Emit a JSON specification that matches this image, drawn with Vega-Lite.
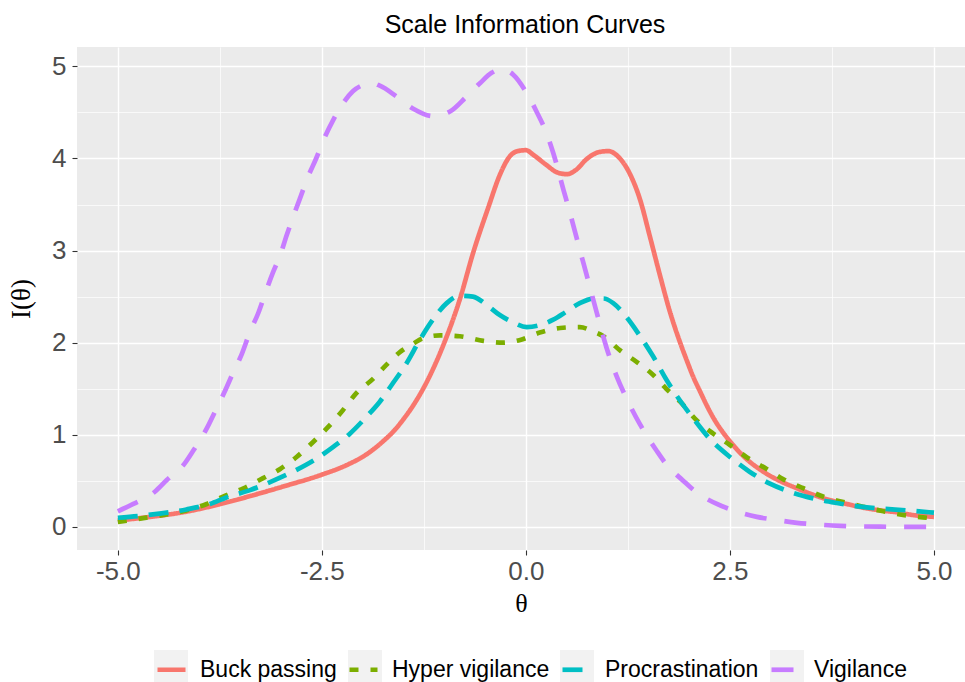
{
  "$schema": "https://vega.github.io/schema/vega-lite/v6.json",
  "width": 888,
  "height": 503,
  "autosize": {"type": "none"},
  "padding": {"left": 77, "top": 47, "right": 0, "bottom": 132},
  "background": "white",
  "title": {"text": "Scale Information Curves", "fontSize": 25, "font": "Liberation Sans", "fontWeight": "normal", "color": "black", "anchor": "middle", "dx": 4, "offset": 9},
  "config": {"view": {"fill": "#EBEBEB", "stroke": null}},
  "resolve": {"scale": {"fill": "independent"}, "legend": {"fill": "independent"}},
  "data": {"values": [
    {"scale": "Buck passing", "theta": -5.0, "info": 0.07},
    {"scale": "Buck passing", "theta": -4.6, "info": 0.11},
    {"scale": "Buck passing", "theta": -4.2, "info": 0.16},
    {"scale": "Buck passing", "theta": -3.76, "info": 0.245},
    {"scale": "Buck passing", "theta": -3.38, "info": 0.335},
    {"scale": "Buck passing", "theta": -2.97, "info": 0.44},
    {"scale": "Buck passing", "theta": -2.51, "info": 0.565},
    {"scale": "Buck passing", "theta": -2.2, "info": 0.67},
    {"scale": "Buck passing", "theta": -1.95, "info": 0.79},
    {"scale": "Buck passing", "theta": -1.75, "info": 0.93},
    {"scale": "Buck passing", "theta": -1.6, "info": 1.06},
    {"scale": "Buck passing", "theta": -1.5, "info": 1.17},
    {"scale": "Buck passing", "theta": -1.38, "info": 1.32},
    {"scale": "Buck passing", "theta": -1.2, "info": 1.6},
    {"scale": "Buck passing", "theta": -1.0, "info": 2.0},
    {"scale": "Buck passing", "theta": -0.81, "info": 2.47},
    {"scale": "Buck passing", "theta": -0.645, "info": 2.98},
    {"scale": "Buck passing", "theta": -0.46, "info": 3.47},
    {"scale": "Buck passing", "theta": -0.32, "info": 3.82},
    {"scale": "Buck passing", "theta": -0.2, "info": 4.02},
    {"scale": "Buck passing", "theta": -0.1, "info": 4.08},
    {"scale": "Buck passing", "theta": 0.0, "info": 4.09},
    {"scale": "Buck passing", "theta": 0.09, "info": 4.04},
    {"scale": "Buck passing", "theta": 0.25, "info": 3.93},
    {"scale": "Buck passing", "theta": 0.38, "info": 3.85},
    {"scale": "Buck passing", "theta": 0.5, "info": 3.83},
    {"scale": "Buck passing", "theta": 0.62, "info": 3.88},
    {"scale": "Buck passing", "theta": 0.74, "info": 3.99},
    {"scale": "Buck passing", "theta": 0.9, "info": 4.07},
    {"scale": "Buck passing", "theta": 1.01, "info": 4.08},
    {"scale": "Buck passing", "theta": 1.13, "info": 4.02},
    {"scale": "Buck passing", "theta": 1.27, "info": 3.84},
    {"scale": "Buck passing", "theta": 1.4, "info": 3.55},
    {"scale": "Buck passing", "theta": 1.52, "info": 3.15},
    {"scale": "Buck passing", "theta": 1.64, "info": 2.74},
    {"scale": "Buck passing", "theta": 1.76, "info": 2.35},
    {"scale": "Buck passing", "theta": 1.89, "info": 2.0},
    {"scale": "Buck passing", "theta": 1.97, "info": 1.81},
    {"scale": "Buck passing", "theta": 2.05, "info": 1.63},
    {"scale": "Buck passing", "theta": 2.14, "info": 1.46},
    {"scale": "Buck passing", "theta": 2.21, "info": 1.33},
    {"scale": "Buck passing", "theta": 2.3, "info": 1.18},
    {"scale": "Buck passing", "theta": 2.42, "info": 1.02},
    {"scale": "Buck passing", "theta": 2.5, "info": 0.93},
    {"scale": "Buck passing", "theta": 2.7, "info": 0.74},
    {"scale": "Buck passing", "theta": 2.91, "info": 0.6},
    {"scale": "Buck passing", "theta": 3.11, "info": 0.5},
    {"scale": "Buck passing", "theta": 3.32, "info": 0.42},
    {"scale": "Buck passing", "theta": 3.52, "info": 0.35},
    {"scale": "Buck passing", "theta": 3.73, "info": 0.29},
    {"scale": "Buck passing", "theta": 3.93, "info": 0.25},
    {"scale": "Buck passing", "theta": 4.13, "info": 0.21},
    {"scale": "Buck passing", "theta": 4.34, "info": 0.18},
    {"scale": "Buck passing", "theta": 4.54, "info": 0.16},
    {"scale": "Buck passing", "theta": 4.74, "info": 0.13},
    {"scale": "Buck passing", "theta": 5.0, "info": 0.11},

    {"scale": "Hyper vigilance", "theta": -5.0, "info": 0.054},
    {"scale": "Hyper vigilance", "theta": -4.73, "info": 0.09},
    {"scale": "Hyper vigilance", "theta": -4.44, "info": 0.13},
    {"scale": "Hyper vigilance", "theta": -4.16, "info": 0.18},
    {"scale": "Hyper vigilance", "theta": -3.91, "info": 0.25},
    {"scale": "Hyper vigilance", "theta": -3.71, "info": 0.33},
    {"scale": "Hyper vigilance", "theta": -3.46, "info": 0.42},
    {"scale": "Hyper vigilance", "theta": -3.22, "info": 0.53},
    {"scale": "Hyper vigilance", "theta": -3.01, "info": 0.63},
    {"scale": "Hyper vigilance", "theta": -2.81, "info": 0.76},
    {"scale": "Hyper vigilance", "theta": -2.61, "info": 0.92},
    {"scale": "Hyper vigilance", "theta": -2.44, "info": 1.07},
    {"scale": "Hyper vigilance", "theta": -2.24, "info": 1.27},
    {"scale": "Hyper vigilance", "theta": -2.08, "info": 1.45},
    {"scale": "Hyper vigilance", "theta": -1.87, "info": 1.61},
    {"scale": "Hyper vigilance", "theta": -1.71, "info": 1.76},
    {"scale": "Hyper vigilance", "theta": -1.54, "info": 1.9},
    {"scale": "Hyper vigilance", "theta": -1.38, "info": 1.99},
    {"scale": "Hyper vigilance", "theta": -1.26, "info": 2.05},
    {"scale": "Hyper vigilance", "theta": -1.05, "info": 2.08},
    {"scale": "Hyper vigilance", "theta": -0.81, "info": 2.07},
    {"scale": "Hyper vigilance", "theta": -0.52, "info": 2.02},
    {"scale": "Hyper vigilance", "theta": -0.28, "info": 2.0},
    {"scale": "Hyper vigilance", "theta": -0.07, "info": 2.03},
    {"scale": "Hyper vigilance", "theta": 0.17, "info": 2.11},
    {"scale": "Hyper vigilance", "theta": 0.42, "info": 2.16},
    {"scale": "Hyper vigilance", "theta": 0.66, "info": 2.17},
    {"scale": "Hyper vigilance", "theta": 0.83, "info": 2.12},
    {"scale": "Hyper vigilance", "theta": 0.95, "info": 2.07},
    {"scale": "Hyper vigilance", "theta": 1.15, "info": 1.92},
    {"scale": "Hyper vigilance", "theta": 1.36, "info": 1.79},
    {"scale": "Hyper vigilance", "theta": 1.56, "info": 1.65},
    {"scale": "Hyper vigilance", "theta": 1.72, "info": 1.5},
    {"scale": "Hyper vigilance", "theta": 1.89, "info": 1.36},
    {"scale": "Hyper vigilance", "theta": 2.09, "info": 1.16},
    {"scale": "Hyper vigilance", "theta": 2.3, "info": 1.01},
    {"scale": "Hyper vigilance", "theta": 2.5, "info": 0.89},
    {"scale": "Hyper vigilance", "theta": 2.7, "info": 0.76},
    {"scale": "Hyper vigilance", "theta": 2.95, "info": 0.63},
    {"scale": "Hyper vigilance", "theta": 3.15, "info": 0.52},
    {"scale": "Hyper vigilance", "theta": 3.4, "info": 0.42},
    {"scale": "Hyper vigilance", "theta": 3.64, "info": 0.33},
    {"scale": "Hyper vigilance", "theta": 3.89, "info": 0.27},
    {"scale": "Hyper vigilance", "theta": 4.13, "info": 0.22},
    {"scale": "Hyper vigilance", "theta": 4.38, "info": 0.17},
    {"scale": "Hyper vigilance", "theta": 4.62, "info": 0.13},
    {"scale": "Hyper vigilance", "theta": 4.91, "info": 0.1},
    {"scale": "Hyper vigilance", "theta": 5.0, "info": 0.09},

    {"scale": "Procrastination", "theta": -5.0, "info": 0.1},
    {"scale": "Procrastination", "theta": -4.73, "info": 0.12},
    {"scale": "Procrastination", "theta": -4.49, "info": 0.145},
    {"scale": "Procrastination", "theta": -4.16, "info": 0.19},
    {"scale": "Procrastination", "theta": -3.87, "info": 0.25},
    {"scale": "Procrastination", "theta": -3.67, "info": 0.32},
    {"scale": "Procrastination", "theta": -3.38, "info": 0.4},
    {"scale": "Procrastination", "theta": -3.1, "info": 0.5},
    {"scale": "Procrastination", "theta": -2.81, "info": 0.62},
    {"scale": "Procrastination", "theta": -2.57, "info": 0.74},
    {"scale": "Procrastination", "theta": -2.36, "info": 0.87},
    {"scale": "Procrastination", "theta": -2.16, "info": 1.01},
    {"scale": "Procrastination", "theta": -1.95, "info": 1.2},
    {"scale": "Procrastination", "theta": -1.79, "info": 1.36},
    {"scale": "Procrastination", "theta": -1.63, "info": 1.56},
    {"scale": "Procrastination", "theta": -1.46, "info": 1.78},
    {"scale": "Procrastination", "theta": -1.3, "info": 2.03},
    {"scale": "Procrastination", "theta": -1.14, "info": 2.25},
    {"scale": "Procrastination", "theta": -0.97, "info": 2.43},
    {"scale": "Procrastination", "theta": -0.81, "info": 2.51},
    {"scale": "Procrastination", "theta": -0.65, "info": 2.5},
    {"scale": "Procrastination", "theta": -0.48, "info": 2.41},
    {"scale": "Procrastination", "theta": -0.32, "info": 2.3},
    {"scale": "Procrastination", "theta": -0.155, "info": 2.22},
    {"scale": "Procrastination", "theta": 0.01, "info": 2.17},
    {"scale": "Procrastination", "theta": 0.17, "info": 2.19},
    {"scale": "Procrastination", "theta": 0.335, "info": 2.25},
    {"scale": "Procrastination", "theta": 0.5, "info": 2.34},
    {"scale": "Procrastination", "theta": 0.66, "info": 2.43},
    {"scale": "Procrastination", "theta": 0.83, "info": 2.48},
    {"scale": "Procrastination", "theta": 0.95, "info": 2.48},
    {"scale": "Procrastination", "theta": 1.07, "info": 2.43},
    {"scale": "Procrastination", "theta": 1.23, "info": 2.28},
    {"scale": "Procrastination", "theta": 1.4, "info": 2.07},
    {"scale": "Procrastination", "theta": 1.56, "info": 1.85},
    {"scale": "Procrastination", "theta": 1.72, "info": 1.6},
    {"scale": "Procrastination", "theta": 1.89, "info": 1.37},
    {"scale": "Procrastination", "theta": 2.05, "info": 1.18},
    {"scale": "Procrastination", "theta": 2.25, "info": 0.96},
    {"scale": "Procrastination", "theta": 2.5, "info": 0.76},
    {"scale": "Procrastination", "theta": 2.74, "info": 0.6},
    {"scale": "Procrastination", "theta": 2.99, "info": 0.47},
    {"scale": "Procrastination", "theta": 3.24, "info": 0.38},
    {"scale": "Procrastination", "theta": 3.52, "info": 0.31},
    {"scale": "Procrastination", "theta": 3.81, "info": 0.26},
    {"scale": "Procrastination", "theta": 4.1, "info": 0.22},
    {"scale": "Procrastination", "theta": 4.34, "info": 0.2},
    {"scale": "Procrastination", "theta": 4.67, "info": 0.18},
    {"scale": "Procrastination", "theta": 4.94, "info": 0.16},
    {"scale": "Procrastination", "theta": 5.0, "info": 0.155},

    {"scale": "Vigilance", "theta": -5.0, "info": 0.17},
    {"scale": "Vigilance", "theta": -4.81, "info": 0.25},
    {"scale": "Vigilance", "theta": -4.55, "info": 0.38},
    {"scale": "Vigilance", "theta": -4.4, "info": 0.51},
    {"scale": "Vigilance", "theta": -4.18, "info": 0.69},
    {"scale": "Vigilance", "theta": -4.06, "info": 0.85},
    {"scale": "Vigilance", "theta": -3.91, "info": 1.07},
    {"scale": "Vigilance", "theta": -3.81, "info": 1.25},
    {"scale": "Vigilance", "theta": -3.69, "info": 1.47},
    {"scale": "Vigilance", "theta": -3.59, "info": 1.67},
    {"scale": "Vigilance", "theta": -3.48, "info": 1.88},
    {"scale": "Vigilance", "theta": -3.38, "info": 2.12},
    {"scale": "Vigilance", "theta": -3.28, "info": 2.32},
    {"scale": "Vigilance", "theta": -3.2, "info": 2.52},
    {"scale": "Vigilance", "theta": -3.1, "info": 2.76},
    {"scale": "Vigilance", "theta": -3.01, "info": 2.95},
    {"scale": "Vigilance", "theta": -2.93, "info": 3.17},
    {"scale": "Vigilance", "theta": -2.85, "info": 3.37},
    {"scale": "Vigilance", "theta": -2.75, "info": 3.61},
    {"scale": "Vigilance", "theta": -2.67, "info": 3.8},
    {"scale": "Vigilance", "theta": -2.57, "info": 4.0},
    {"scale": "Vigilance", "theta": -2.48, "info": 4.2},
    {"scale": "Vigilance", "theta": -2.36, "info": 4.42},
    {"scale": "Vigilance", "theta": -2.24, "info": 4.6},
    {"scale": "Vigilance", "theta": -2.12, "info": 4.73},
    {"scale": "Vigilance", "theta": -1.99, "info": 4.8},
    {"scale": "Vigilance", "theta": -1.89, "info": 4.82},
    {"scale": "Vigilance", "theta": -1.79, "info": 4.79},
    {"scale": "Vigilance", "theta": -1.58, "info": 4.67},
    {"scale": "Vigilance", "theta": -1.38, "info": 4.54},
    {"scale": "Vigilance", "theta": -1.14, "info": 4.46},
    {"scale": "Vigilance", "theta": -0.93, "info": 4.51},
    {"scale": "Vigilance", "theta": -0.73, "info": 4.67},
    {"scale": "Vigilance", "theta": -0.56, "info": 4.82},
    {"scale": "Vigilance", "theta": -0.42, "info": 4.93},
    {"scale": "Vigilance", "theta": -0.3, "info": 4.97},
    {"scale": "Vigilance", "theta": -0.155, "info": 4.91},
    {"scale": "Vigilance", "theta": 0.01, "info": 4.71},
    {"scale": "Vigilance", "theta": 0.13, "info": 4.51},
    {"scale": "Vigilance", "theta": 0.25, "info": 4.28},
    {"scale": "Vigilance", "theta": 0.335, "info": 4.06},
    {"scale": "Vigilance", "theta": 0.46, "info": 3.66},
    {"scale": "Vigilance", "theta": 0.54, "info": 3.41},
    {"scale": "Vigilance", "theta": 0.66, "info": 3.01},
    {"scale": "Vigilance", "theta": 0.74, "info": 2.75},
    {"scale": "Vigilance", "theta": 0.87, "info": 2.32},
    {"scale": "Vigilance", "theta": 0.99, "info": 1.94},
    {"scale": "Vigilance", "theta": 1.11, "info": 1.64},
    {"scale": "Vigilance", "theta": 1.23, "info": 1.4},
    {"scale": "Vigilance", "theta": 1.4, "info": 1.11},
    {"scale": "Vigilance", "theta": 1.6, "info": 0.83},
    {"scale": "Vigilance", "theta": 1.72, "info": 0.68},
    {"scale": "Vigilance", "theta": 1.93, "info": 0.5},
    {"scale": "Vigilance", "theta": 2.07, "info": 0.39},
    {"scale": "Vigilance", "theta": 2.34, "info": 0.25},
    {"scale": "Vigilance", "theta": 2.54, "info": 0.18},
    {"scale": "Vigilance", "theta": 2.83, "info": 0.11},
    {"scale": "Vigilance", "theta": 3.04, "info": 0.08},
    {"scale": "Vigilance", "theta": 3.32, "info": 0.045},
    {"scale": "Vigilance", "theta": 3.52, "info": 0.03},
    {"scale": "Vigilance", "theta": 3.85, "info": 0.012},
    {"scale": "Vigilance", "theta": 4.05, "info": 0.007},
    {"scale": "Vigilance", "theta": 4.34, "info": 0.003},
    {"scale": "Vigilance", "theta": 4.54, "info": 0.002},
    {"scale": "Vigilance", "theta": 5.0, "info": 0.001}
  ]},
  "encoding": {
    "x": {
      "field": "theta", "type": "quantitative", "title": "θ",
      "scale": {"domain": [-5.5, 5.38], "nice": false, "zero": false},
      "axis": {
        "values": [-5, -3.75, -2.5, -1.25, 0, 1.25, 2.5, 3.75, 5],
        "labelExpr": "datum.value % 2.5 === 0 ? (datum.value < 0 ? '-' : '') + format(abs(datum.value), '.1f') : ''",
        "tickOpacity": {"condition": {"test": "datum.value % 2.5 === 0", "value": 1}, "value": 0},
        "gridWidth": {"condition": {"test": "datum.value % 2.5 === 0", "value": 1.4}, "value": 0.7},
        "gridColor": "white", "gridOpacity": 1, "domain": false,
        "tickColor": "#333333", "tickSize": 5, "tickWidth": 1.1,
        "labelFont": "Liberation Sans", "labelFontSize": 26, "labelColor": "#4D4D4D", "labelPadding": 3,
        "labelOverlap": false, "labelFlush": false,
        "titleFont": "Liberation Serif", "titleFontSize": 26, "titleFontWeight": "normal", "titleColor": "black", "titlePadding": 6
      }
    },
    "y": {
      "field": "info", "type": "quantitative", "title": "I(θ)",
      "scale": {"domain": [-0.25, 5.21], "nice": false, "zero": false},
      "axis": {
        "values": [0, 0.5, 1, 1.5, 2, 2.5, 3, 3.5, 4, 4.5, 5],
        "labelExpr": "datum.value % 1 === 0 ? format(datum.value, 'd') : ''",
        "tickOpacity": {"condition": {"test": "datum.value % 1 === 0", "value": 1}, "value": 0},
        "gridWidth": {"condition": {"test": "datum.value % 1 === 0", "value": 1.4}, "value": 0.7},
        "gridColor": "white", "gridOpacity": 1, "domain": false,
        "tickColor": "#333333", "tickSize": 5, "tickWidth": 1.1,
        "labelFont": "Liberation Sans", "labelFontSize": 26, "labelColor": "#4D4D4D", "labelPadding": 6,
        "labelOverlap": false, "labelFlush": false,
        "titleFont": "Liberation Serif", "titleFontSize": 27, "titleFontWeight": "normal", "titleColor": "black", "titlePadding": 16
      }
    }
  },
  "layer": [
    {
      "transform": [{"filter": "false"}],
      "mark": {"type": "point", "filled": true},
      "encoding": {
        "fill": {
          "field": "scale", "type": "nominal",
          "scale": {"domain": ["Buck passing"], "range": ["#F2F2F2"]},
          "legend": {"orient": "none", "legendX": 77, "legendY": 603, "title": null,
            "symbolType": "square", "symbolSize": 1156, "symbolStrokeWidth": 0, "symbolOpacity": 1,
            "labelExpr": "''", "padding": 0, "zindex": 0}
        }
      }
    },
    {
      "transform": [{"filter": "false"}],
      "mark": {"type": "point", "filled": true},
      "encoding": {
        "fill": {
          "field": "scale", "type": "nominal",
          "scale": {"domain": ["Hyper vigilance"], "range": ["#F2F2F2"]},
          "legend": {"orient": "none", "legendX": 271, "legendY": 603, "title": null,
            "symbolType": "square", "symbolSize": 1156, "symbolStrokeWidth": 0, "symbolOpacity": 1,
            "labelExpr": "''", "padding": 0, "zindex": 0}
        }
      }
    },
    {
      "transform": [{"filter": "false"}],
      "mark": {"type": "point", "filled": true},
      "encoding": {
        "fill": {
          "field": "scale", "type": "nominal",
          "scale": {"domain": ["Procrastination"], "range": ["#F2F2F2"]},
          "legend": {"orient": "none", "legendX": 483, "legendY": 603, "title": null,
            "symbolType": "square", "symbolSize": 1156, "symbolStrokeWidth": 0, "symbolOpacity": 1,
            "labelExpr": "''", "padding": 0, "zindex": 0}
        }
      }
    },
    {
      "transform": [{"filter": "false"}],
      "mark": {"type": "point", "filled": true},
      "encoding": {
        "fill": {
          "field": "scale", "type": "nominal",
          "scale": {"domain": ["Vigilance"], "range": ["#F2F2F2"]},
          "legend": {"orient": "none", "legendX": 693, "legendY": 603, "title": null,
            "symbolType": "square", "symbolSize": 1156, "symbolStrokeWidth": 0, "symbolOpacity": 1,
            "labelExpr": "''", "padding": 0, "zindex": 0}
        }
      }
    },
    {
      "mark": {"type": "line", "strokeWidth": 4.7, "interpolate": "monotone", "clip": true},
      "encoding": {
        "color": {
          "field": "scale", "type": "nominal",
          "scale": {"range": ["#F8766D", "#7CAE00", "#00BFC4", "#C77CFF"]},
          "legend": {"orient": "none", "legendX": 78, "legendY": 606, "direction": "horizontal", "title": null,
            "symbolType": "stroke", "symbolSize": 784, "symbolStrokeWidth": 4.7,
            "labelFont": "Liberation Sans", "labelFontSize": 23, "labelColor": "black", "labelOffset": 12, "labelLimit": 0,
            "columnPadding": 3, "padding": 0, "zindex": 1}
        },
        "strokeDash": {
          "field": "scale", "type": "nominal",
          "scale": {"range": [[1, 0], [9, 12], [20, 11], [22, 18]]},
          "legend": {"orient": "none", "legendX": 78, "legendY": 606, "direction": "horizontal", "title": null,
            "symbolType": "stroke", "symbolSize": 784, "symbolStrokeWidth": 4.7,
            "labelFont": "Liberation Sans", "labelFontSize": 23, "labelColor": "black", "labelOffset": 12, "labelLimit": 0,
            "columnPadding": 3, "padding": 0, "zindex": 1}
        }
      }
    }
  ]
}
